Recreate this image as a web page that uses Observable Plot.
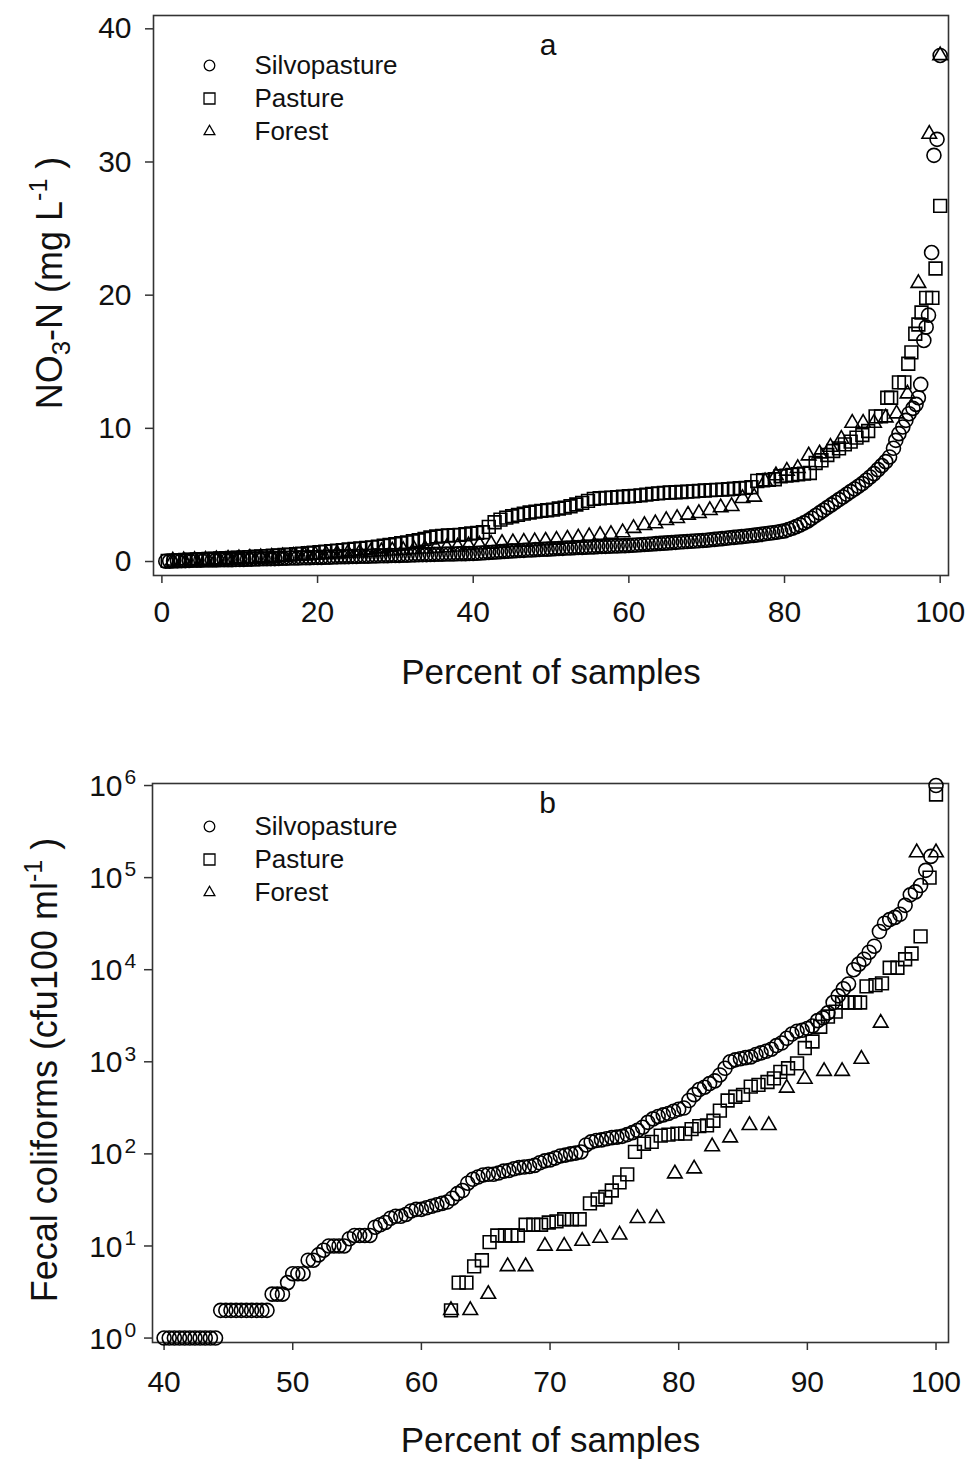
<!DOCTYPE html>
<html><head><meta charset="utf-8">
<script src="https://cdn.jsdelivr.net/npm/d3@7"></script>
<script src="https://cdn.jsdelivr.net/npm/@observablehq/plot@0.6"></script>
<style>
body{margin:0;background:#fff;}
#chart{width:969px;}
#chart svg{display:block;}
</style></head><body><div id="chart"></div>
<script>
// ---------- shared ----------
const seriesNames = ["Silvopasture", "Pasture", "Forest"];
const seriesSymbols = ["circle", "square", "triangle"];

// ---------- panel a : NO3-N (mg/L) vs percent of samples ----------
const xTicksA = [0, 20, 40, 60, 80, 100];
const yTicksA = [0, 10, 20, 30, 40];

const silvoPctA = [0.5,1,1.5,2,2.5,3,3.5,4,4.5,5,
5.5,6,6.5,7,7.5,8,8.5,9,9.5,10,
10.5,11,11.5,12,12.5,13,13.5,14,14.5,15,
15.5,16,16.5,17,17.5,18,18.5,19,19.5,20,
20.5,21,21.5,22,22.5,23,23.5,24,24.5,25,
25.5,26,26.5,27,27.5,28,28.5,29,29.5,30,
30.5,31,31.5,32,32.5,33,33.5,34,34.5,35,
35.5,36,36.5,37,37.5,38,38.5,39,39.5,40,
40.5,41,41.5,42,42.5,43,43.5,44,44.5,45,
45.5,46,46.5,47,47.5,48,48.5,49,49.5,50,
50.5,51,51.5,52,52.5,53,53.5,54,54.5,55,
55.5,56,56.5,57,57.5,58,58.5,59,59.5,60,
60.5,61,61.5,62,62.5,63,63.5,64,64.5,65,
65.5,66,66.5,67,67.5,68,68.5,69,69.5,70,
70.5,71,71.5,72,72.5,73,73.5,74,74.5,75,
75.5,76,76.5,77,77.5,78,78.5,79,79.5,80,
80.5,81,81.5,82,82.5,83,83.5,84,84.5,85,
85.5,86,86.5,87,87.5,88,88.5,89,89.5,90,
90.5,91,91.5,92,92.5,93,93.5,
94.0,94.3,94.7,95.2,95.6,96.0,96.5,96.9,97.2,97.5,97.9,98.2,98.5,98.9,99.2,99.6,100];
const silvoNO3 = [0.02,0.03,0.04,0.05,0.06,0.07,0.08,0.09,0.10,0.10,
0.11,0.11,0.12,0.12,0.13,0.13,0.14,0.14,0.15,0.15,
0.16,0.17,0.18,0.19,0.20,0.21,0.21,0.22,0.22,0.23,
0.24,0.25,0.26,0.26,0.27,0.28,0.28,0.29,0.30,0.30,
0.31,0.32,0.33,0.34,0.35,0.36,0.36,0.37,0.38,0.38,
0.39,0.40,0.40,0.41,0.42,0.43,0.43,0.44,0.45,0.45,
0.46,0.47,0.48,0.49,0.50,0.51,0.52,0.52,0.53,0.54,
0.55,0.55,0.56,0.57,0.57,0.58,0.59,0.59,0.60,0.60,
0.62,0.64,0.66,0.68,0.70,0.72,0.74,0.76,0.78,0.80,
0.81,0.83,0.84,0.86,0.87,0.89,0.90,0.92,0.93,0.95,
0.96,0.98,0.99,1.01,1.02,1.04,1.05,1.06,1.08,1.09,
1.10,1.12,1.13,1.14,1.15,1.16,1.17,1.18,1.19,1.20,
1.22,1.24,1.26,1.28,1.30,1.32,1.34,1.36,1.38,1.40,
1.42,1.44,1.46,1.48,1.50,1.52,1.54,1.56,1.58,1.60,
1.63,1.66,1.69,1.72,1.75,1.78,1.81,1.84,1.87,1.90,
1.93,1.96,2.00,2.04,2.08,2.12,2.16,2.20,2.25,2.30,
2.40,2.50,2.62,2.75,2.90,3.05,3.25,3.45,3.65,3.85,
4.05,4.25,4.45,4.65,4.85,5.05,5.25,5.45,5.65,5.85,
6.10,6.35,6.60,6.90,7.20,7.50,7.85,
8.5,9.1,9.6,10.1,10.6,11.1,11.5,11.8,12.3,13.3,16.6,17.6,18.5,23.2,30.5,31.7,38.0];

const pastPctA = [0.75,1.5,2.25,3,3.75,4.5,5.25,6,6.75,7.5,
8.25,9,9.75,10.5,11.25,12,12.75,13.5,14.25,15,
15.75,16.5,17.25,18,18.75,19.5,20.25,21,21.75,22.5,
23.25,24,24.75,25.5,26.25,27,27.75,28.5,29.25,30,
30.75,31.5,32.25,33,33.75,34.5,35.25,36,36.75,37.5,
38.25,39,39.75,40.5,41.25,42,42.75,43.5,44.25,45,
45.75,46.5,47.25,48,48.75,49.5,50.25,51,51.75,52.5,
53.25,54,54.75,55.5,56.25,57,57.75,58.5,59.25,60,
60.75,61.5,62.25,63,63.75,64.5,65.25,66,66.75,67.5,
68.25,69,69.75,70.5,71.25,72,72.75,73.5,74.25,75,
75.75,76.5,77.25,78,78.75,79.5,80.25,81,81.75,82.5,
83.25,84,84.75,85.5,86.25,87,87.75,88.5,89.25,90,
90.75,
91.7,92.4,93.2,93.7,94.7,95.4,95.9,96.3,96.8,97.2,97.6,98.2,99.0,99.4,100];
const pastNO3 = [0.05,0.07,0.09,0.11,0.13,0.15,0.17,0.19,0.21,0.23,
0.25,0.27,0.29,0.31,0.33,0.36,0.38,0.41,0.43,0.46,
0.49,0.52,0.55,0.58,0.62,0.66,0.70,0.74,0.78,0.82,
0.86,0.90,0.94,0.98,1.02,1.06,1.12,1.18,1.24,1.30,
1.37,1.44,1.52,1.60,1.70,1.80,1.88,1.92,1.95,1.98,
2.00,2.05,2.10,2.15,2.20,2.60,2.95,3.15,3.30,3.40,
3.50,3.60,3.68,3.75,3.80,3.85,3.90,3.98,4.05,4.15,
4.28,4.40,4.55,4.70,4.75,4.78,4.80,4.83,4.86,4.90,
4.93,4.97,5.02,5.08,5.12,5.15,5.18,5.20,5.22,5.25,
5.27,5.30,5.33,5.36,5.38,5.40,5.43,5.46,5.50,5.53,
5.58,6.05,6.10,6.13,6.18,6.40,6.45,6.50,6.55,6.60,
6.65,7.40,7.60,8.00,8.30,8.50,8.80,9.00,9.30,9.50,
9.80,
10.9,10.9,12.3,12.3,13.45,13.45,14.85,15.7,17.1,17.8,18.7,19.8,19.8,22.0,26.7];

const forPctA = [1.4,2.8,4.2,5.6,7.0,8.5,9.9,11.3,12.7,14.1,
15.5,16.9,18.3,19.7,21.1,22.5,23.9,25.4,26.8,28.2,
29.6,31.0,32.4,33.8,35.2,36.6,38.0,39.4,40.8,42.3,
43.7,45.1,46.5,47.9,49.3,50.7,52.1,53.5,54.9,56.3,
57.7,59.2,60.6,62.0,63.4,64.8,66.2,67.6,69.0,70.4,
71.8,73.2,74.6,76.1,77.5,78.9,80.3,81.7,83.1,84.5,
85.9,87.3,88.7,90.1,91.5,93.0,94.4,95.8,97.2,98.6,
100];
const forNO3 = [0.05,0.08,0.10,0.12,0.15,0.18,0.22,0.26,0.30,0.34,
0.38,0.42,0.46,0.50,0.54,0.58,0.62,0.66,0.70,0.75,
0.80,0.85,0.90,0.95,1.00,1.05,1.10,1.20,1.25,1.32,
1.38,1.42,1.47,1.50,1.55,1.62,1.70,1.78,1.88,1.98,
2.05,2.18,2.50,2.72,2.85,3.10,3.25,3.50,3.62,3.85,
4.05,4.15,4.75,4.85,6.00,6.45,6.80,7.00,7.95,8.10,
8.60,9.20,10.4,10.4,10.4,10.8,11.1,12.6,20.9,32.1,
38.0];

// ---------- panel b : fecal coliforms (cfu/100 ml, log) ----------
const xTicksB = [40, 50, 60, 70, 80, 90, 100];
const yTicksB = [1, 10, 100, 1000, 10000, 100000, 1000000];
const yExpB = ["0", "1", "2", "3", "4", "5", "6"];

const silvoPctB = [40,40.4,40.8,41.2,41.6,42,42.4,42.8,43.2,43.6,
44,44.4,44.8,45.2,45.6,46,46.4,46.8,47.2,47.6,
48,48.4,48.8,49.2,49.6,50,50.4,50.8,51.2,51.6,
52,52.4,52.8,53.2,53.6,54,54.4,54.8,55.2,55.6,
56,56.4,56.8,57.2,57.6,58,58.4,58.8,59.2,59.6,
60,60.4,60.8,61.2,61.6,62,62.4,62.8,63.2,63.6,
64,64.4,64.8,65.2,65.6,66,66.4,66.8,67.2,67.6,
68,68.4,68.8,69.2,69.6,70,70.4,70.8,71.2,71.6,
72,72.4,72.8,73.2,73.6,74,74.4,74.8,75.2,75.6,
76,76.4,76.8,77.2,77.6,78,78.4,78.8,79.2,79.6,
80,80.4,80.8,81.2,81.6,82,82.4,82.8,83.2,83.6,
84,84.4,84.8,85.2,85.6,86,86.4,86.8,87.2,87.6,
88,88.4,88.8,89.2,89.6,90,90.4,90.8,91.2,91.6,
92,92.4,92.8,93.2,93.6,94,94.4,94.8,95.2,95.6,
96,96.4,96.8,97.2,97.6,98,98.4,98.8,99.2,99.6,
100];
const silvoFC = [1,1,1,1,1,1,1,1,1,1,
1,2,2,2,2,2,2,2,2,2,
2,3,3,3,4,5,5,5,7,7,
8,9,10,10,10,10,12,13,13,13,
13,16,17,18,20,21,21,22,24,25,
25,26,27,28,29,30,33,37,40,48,
53,56,59,60,60,62,65,66,69,71,
72,73,75,80,84,86,90,95,97,100,
102,105,125,135,140,142,146,150,152,155,
162,170,180,195,220,240,255,265,275,290,
305,315,380,440,500,530,580,620,720,850,
1000,1050,1080,1110,1130,1200,1250,1300,1370,1500,
1600,1800,2000,2150,2200,2300,2450,2800,3000,3400,
4400,5200,6200,7000,10000,11500,13000,15500,18000,26000,
32000,35000,37000,40000,50000,65000,70000,82000,120000,170000,
1000000];

const pastPctB = [62.3,62.9,63.5,64.1,64.7,65.3,65.9,66.5,67.0,67.5,
68.1,68.7,69.3,69.9,70.5,71.1,71.7,72.3,73.1,73.7,
74.3,74.8,75.4,76.0,76.6,77.3,77.9,78.6,79.2,79.9,
80.5,81.0,81.6,82.2,82.7,83.2,83.8,84.4,85.0,85.6,
86.2,86.9,87.4,87.9,88.5,89.2,89.8,90.4,91.0,91.6,
92.2,92.7,93.2,93.7,94.1,94.6,95.3,95.8,96.4,97.0,
97.6,98.1,98.8,99.5,100];
const pastFC = [2,4,4,6,7,11,13,13,13,13,
17,17,17,18,18.5,19.5,19.5,19.5,29,32,
34,40,49,60,105,129,135,158,162,166,
166,186,200,204,229,295,380,417,437,537,
562,603,661,776,851,960,1410,1660,2400,3100,
3500,4400,4400,4400,4400,6600,6800,7100,10500,10500,
13000,15000,23000,100000,800000];

const forPctB = [62.3,63.8,65.2,66.7,68.1,69.6,71.1,72.5,73.9,75.4,
76.8,78.3,79.7,81.2,82.6,84.0,85.5,87.0,88.4,89.8,
91.3,92.7,94.2,95.7,98.5,100];
const forFC = [2,2,3,6,6,10,10,11.3,12.2,13.2,
20,20,61,69,120,150,204,204,520,650,
790,790,1070,2640,187000,187000];

// ---------- helpers ----------
const FONT = "'Liberation Sans', Arial, Helvetica, sans-serif";
const INK = "#111";
const zipRows = (pct, val) => pct.map((p, i) => ({pct: p, val: val[i]}));
const markR = {circle: 7, square: 7.2, triangle: 5.4};
const legR = {circle: 5.3, square: 6.2, triangle: 4};

function seriesMarks(list) {
  return list.map(([pct, val], k) =>
    Plot.dot(zipRows(pct, val), {
      x: "pct", y: "val", symbol: () => seriesSymbols[k], r: markR[seriesSymbols[k]],
      stroke: "#000", strokeWidth: 1.6, fill: "none"
    }));
}
function legendMarks(dx, dy0, step, tdx) {
  const out = [];
  seriesNames.forEach((name, k) => {
    out.push(Plot.dot([name], {frameAnchor: "top-left", dx, dy: dy0 + k * step,
      symbol: () => seriesSymbols[k], r: legR[seriesSymbols[k]], stroke: "#000", strokeWidth: 1.3, fill: "none"}));
    out.push(Plot.text([name], {frameAnchor: "top-left", dx: tdx, dy: dy0 + k * step, text: d => d,
      textAnchor: "start", lineAnchor: "middle", fontSize: 26, fill: INK}));
  });
  return out;
}

// ---------- panel a ----------
const plotA = Plot.plot({
  width: 969, height: 740,
  marginTop: 15, marginBottom: 165, marginLeft: 153, marginRight: 21,
  style: {fontFamily: FONT, fontSize: "30px", color: "#222", background: "#fff", overflow: "visible"},
  symbol: {domain: seriesSymbols, range: seriesSymbols},
  x: {domain: [-1.08, 101.07]},
  y: {domain: [-1.05, 41.0]},
  marks: [
    Plot.frame({stroke: "#333", strokeWidth: 1.6}),
    Plot.axisX({ticks: xTicksA, tickSize: 8, tickPadding: 17, label: null, fontSize: 30, strokeWidth: 1.5, stroke: "#333", fill: INK}),
    Plot.axisY({ticks: yTicksA, tickSize: 8, tickPadding: 14, label: null, fontSize: 30, strokeWidth: 1.5, stroke: "#333", fill: INK}),
    ...seriesMarks([[silvoPctA, silvoNO3], [pastPctA, pastNO3], [forPctA, forNO3]]),
    ...legendMarks(56, 50, 33, 101),
    Plot.text(["a"], {frameAnchor: "top", dx: -3, dy: 30, lineAnchor: "middle", fontSize: 30, fill: INK}),
    Plot.text(["Percent of samples"], {frameAnchor: "bottom", dy: 97, lineAnchor: "middle", fontSize: 35, fill: INK})
  ]
});

// ---------- panel b ----------
const tickRowsB = yTicksB.map((v, i) => ({v, e: yExpB[i]}));
const plotB = Plot.plot({
  width: 969, height: 720,
  marginTop: 43, marginBottom: 118, marginLeft: 152, marginRight: 21,
  style: {fontFamily: FONT, fontSize: "30px", color: "#222", background: "#fff", overflow: "visible"},
  symbol: {domain: seriesSymbols, range: seriesSymbols},
  x: {domain: [39.1, 100.97]},
  y: {type: "log", domain: [0.895, 1052000]},
  marks: [
    Plot.frame({stroke: "#333", strokeWidth: 1.6}),
    Plot.axisX({ticks: xTicksB, tickSize: 8, tickPadding: 20, label: null, fontSize: 30, strokeWidth: 1.5, stroke: "#333", fill: INK}),
    Plot.axisY({ticks: yTicksB, tickSize: 8, tickFormat: () => "", label: null, strokeWidth: 1.5, stroke: "#333"}),
    Plot.text(tickRowsB, {y: "v", frameAnchor: "left", dx: -30, dy: 1, text: () => "10", textAnchor: "end", lineAnchor: "middle", fontSize: 30, fill: INK}),
    Plot.text(tickRowsB, {y: "v", frameAnchor: "left", dx: -28, dy: -8, text: "e", textAnchor: "start", lineAnchor: "middle", fontSize: 21, fill: INK}),
    ...seriesMarks([[silvoPctB, silvoFC], [pastPctB, pastFC], [forPctB, forFC]]),
    ...legendMarks(57, 43, 33, 102),
    Plot.text(["b"], {frameAnchor: "top", dx: -3, dy: 20, lineAnchor: "middle", fontSize: 30, fill: INK}),
    Plot.text(["Percent of samples"], {frameAnchor: "bottom", dy: 98, lineAnchor: "middle", fontSize: 35, fill: INK})
  ]
});

// ---------- rotated y labels with sub/superscripts ----------
function yLabel(svg, x, y, parts) {
  const t = d3.select(svg).append("text")
    .attr("transform", `translate(${x},${y}) rotate(-90)`)
    .attr("text-anchor", "middle").attr("font-family", FONT)
    .attr("font-size", 36).attr("fill", INK);
  parts.forEach(p => {
    const s = t.append("tspan").text(p.t);
    if (p.size) s.attr("font-size", p.size);
    if (p.dy) s.attr("dy", p.dy);
  });
}
yLabel(plotA, 62, 283, [
  {t: "NO"}, {t: "3", size: 26, dy: 8}, {t: "-N (mg L", dy: -8},
  {t: "-1", size: 25, dy: -15}, {t: " )", dy: 15}
]);
yLabel(plotB, 57, 330, [
  {t: "Fecal coliforms (cfu100 ml"}, {t: "-1", size: 25, dy: -15}, {t: " )", dy: 15}
]);

const root = document.getElementById("chart");
root.append(plotA, plotB);
</script>
</body></html>
